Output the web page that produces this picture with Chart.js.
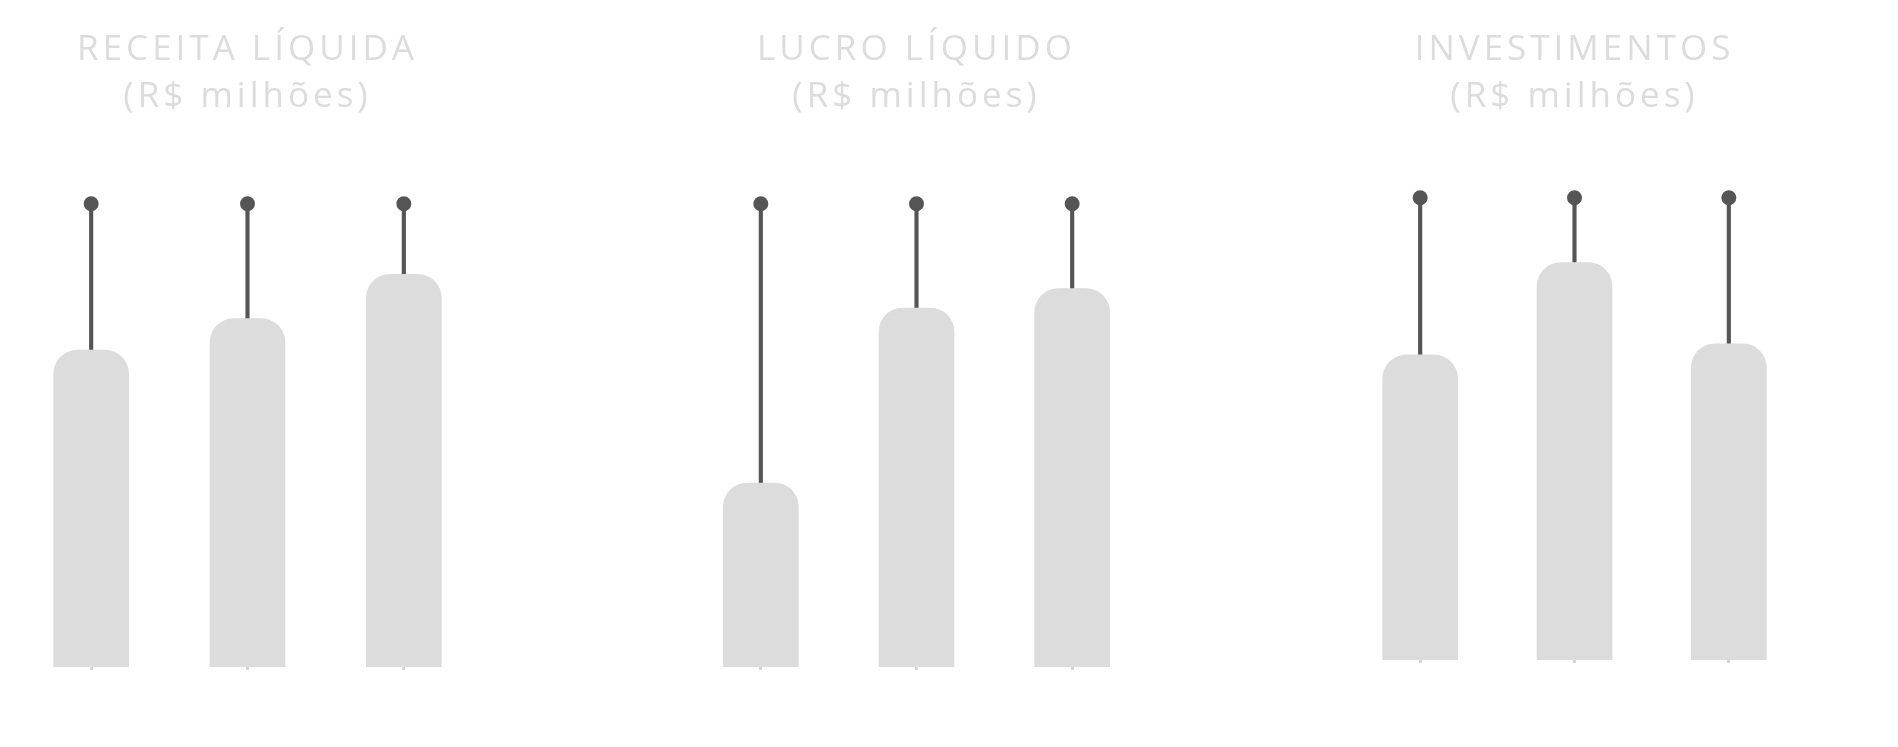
<!DOCTYPE html>
<html>
<head>
<meta charset="utf-8">
<script src="https://cdn.jsdelivr.net/npm/chart.js@4"></script>
<style>
  html, body { margin: 0; padding: 0; background: #fff; }
  body { width: 1898px; height: 747px; position: relative; overflow: hidden; }
  .box { position: absolute; top: 0; height: 747px; }
</style>
</head>
<body>
<div class="box" style="left:13px;width:472px"><canvas id="receita"></canvas></div>
<div class="box" style="left:683px;width:474px"><canvas id="lucro"></canvas></div>
<div class="box" style="left:1338px;width:468px"><canvas id="invest"></canvas></div>
<script>
// three years per panel, values read as share of each panel's top marker
const years = ['2019', '2020', '2021']

const receita = [68.4, 75.2, 84.8]
const lucro = [39.7, 77.5, 81.7]
const investimentos = [66.0, 86.0, 68.4]

// the dot above each bar sits at the same level in every panel
const topMarker = [100, 100, 100]

const titleLine2 = '(R$ milhões)'

const barGrey = '#dcdcdc'
const stemGrey = '#555555'

// the titles in the original are spaced out a bit wider than Open Sans
const spacedTitle = {
    id: 'spacedTitle',
    beforeDraw(chart) {
        chart.ctx.letterSpacing = '4px'
    }
}

function makeChart(id, title, values, pad) {
    const stems = values.map((v, i) => [v, topMarker[i]])
    const config = {
        type: 'bar',
        data: {
            labels: years,
            datasets: [
                {
                    type: 'line',
                    data: topMarker,
                    showLine: false,
                    pointRadius: 7.5,
                    pointHoverRadius: 7.5,
                    pointBackgroundColor: stemGrey,
                    pointBorderWidth: 0,
                    clip: false,
                    order: 0
                },
                {
                    data: stems,
                    backgroundColor: stemGrey,
                    barThickness: 3.5,
                    grouped: false,
                    borderRadius: 0,
                    order: 2
                },
                {
                    data: values,
                    backgroundColor: barGrey,
                    barThickness: 75,
                    grouped: false,
                    borderRadius: 24,
                    borderSkipped: 'start',
                    order: 1
                }
            ]
        },
        options: {
            responsive: true,
            maintainAspectRatio: false,
            animation: false,
            layout: {
                autoPadding: false,
                padding: { top: 0, bottom: pad.bottom, left: pad.left, right: pad.right }
            },
            plugins: {
                legend: { display: false },
                tooltip: { enabled: false },
                title: {
                    display: true,
                    text: [title, titleLine2],
                    color: '#dcdcdc',
                    font: { family: 'Open Sans', size: 35, weight: 'normal', lineHeight: 1.34 },
                    padding: { top: pad.titleTop, bottom: pad.titleBottom }
                }
            },
            scales: {
                x: {
                    display: true,
                    grid: {
                        display: true,
                        drawOnChartArea: false,
                        drawTicks: true,
                        tickLength: 3,
                        lineWidth: 3,
                        color: '#d6d6d6',
                        offset: false
                    },
                    border: { display: false },
                    ticks: { display: false }
                },
                y: {
                    display: false,
                    min: 0,
                    max: 100
                }
            }
        },
        plugins: [spacedTitle]
    }
    const canvas = document.getElementById(id)
    if (canvas) {
        return new Chart(canvas, config)
    }
}

makeChart('receita', 'RECEITA LÍQUIDA', receita, { left: 0, right: 3, bottom: 77, titleTop: 27, titleBottom: 83 })
makeChart('lucro', 'LUCRO LÍQUIDO', lucro, { left: 0, right: 7, bottom: 77, titleTop: 27, titleBottom: 83 })
makeChart('invest', 'INVESTIMENTOS', investimentos, { left: 5, right: 0, bottom: 84, titleTop: 27, titleBottom: 77 })
</script>
</body>
</html>
